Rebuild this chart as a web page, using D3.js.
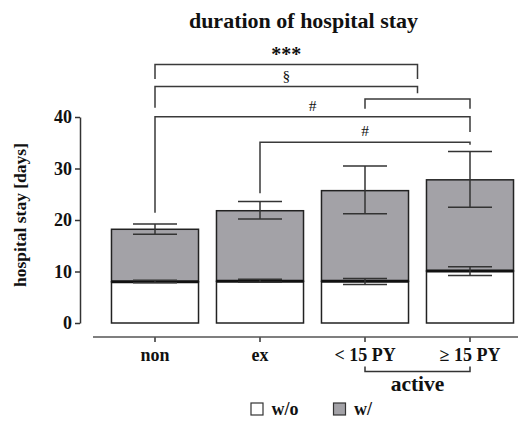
<!DOCTYPE html>
<html>
<head>
<meta charset="utf-8">
<script src="https://cdn.jsdelivr.net/npm/d3@7"></script>
<style>
  body { margin: 0; background: #fff; }
  text { font-family: "Liberation Serif", "Times New Roman", serif; }
</style>
</head>
<body>
<svg id="chart" width="527" height="421"></svg>
<script>
// ---- data ----
const categories = ["non", "ex", "< 15 PY", "≥ 15 PY"];
const withoutMean = [8.0, 8.1, 8.1, 10.1];
const withoutLow  = [7.8, 7.9, 7.5, 9.2];
const withoutHigh = [8.3, 8.5, 8.65, 10.9];
const withMean = [18.2, 21.8, 25.7, 27.8];
const withLow  = [17.25, 20.2, 21.2, 22.5];
const withHigh = [19.2, 23.6, 30.5, 33.3];
const yTicks = [0, 10, 20, 30, 40];
const legendLabels = ["w/o", "w/"];
// significance brackets: positions in category index units, heights in days
const bracketFrom   = [0, 0, 2, 0, 1];
const bracketTo     = [2.5, 2.5, 3, 3, 3];
const bracketTop    = [50.2, 45.9, 43.5, 40.05, 35.1];
const bracketLeftEnd  = [47.4, 41.8, 41.6, 21.4, 25.2];
const bracketRightEnd = [47.4, 44.6, 41.6, 37.1, 34.6];
const bracketLabels = ["***", "§", "", "#", "#"];

// ---- layout ----
const svg = d3.select("#chart");
const y = d3.scaleLinear().domain([0, 40]).range([323, 117]);
const x = d3.scaleBand().domain(categories).range([102.5, 522.5])
  .paddingInner(0.171).paddingOuter(0.0855);
const step = x.step();
const cx = i => x(categories[0]) + x.bandwidth() / 2 + i * step;

const fillGray = "#a3a2a7";
const lineCol = "#3a3a3a";

// title
svg.append("text").attr("x", 303.5).attr("y", 28)
  .attr("text-anchor", "middle").attr("font-size", 22).attr("font-weight", "bold")
  .attr("fill", "#111").text("duration of hospital stay");

// y axis
const yAxis = svg.append("g").attr("transform", "translate(80,0)")
  .call(d3.axisLeft(y).tickValues(yTicks).tickSize(5).tickSizeOuter(0).tickPadding(3));
yAxis.selectAll("path, line").attr("stroke", "#333").attr("stroke-width", 1.5);
yAxis.selectAll("text").attr("font-size", 18).attr("font-weight", "bold")
  .attr("font-family", "Liberation Serif").attr("fill", "#111");

// y label
svg.append("text").attr("transform", "translate(25.5,215) rotate(-90)")
  .attr("text-anchor", "middle").attr("font-size", 17.5).attr("font-weight", "bold")
  .attr("fill", "#111").text("hospital stay [days]");

// bars: w/ (total) gray, w/o white
const g = svg.append("g");
categories.forEach((c, i) => {
  g.append("rect").attr("x", x(c)).attr("y", y(withMean[i]))
    .attr("width", x.bandwidth()).attr("height", y(withoutMean[i]) - y(withMean[i]))
    .attr("fill", fillGray).attr("stroke", "#222").attr("stroke-width", 1.5);
  g.append("rect").attr("x", x(c)).attr("y", y(withoutMean[i]))
    .attr("width", x.bandwidth()).attr("height", y(0) - y(withoutMean[i]))
    .attr("fill", "#fff").attr("stroke", "#222").attr("stroke-width", 1.5);
  g.append("line").attr("x1", x(c)).attr("x2", x(c) + x.bandwidth())
    .attr("y1", y(withoutMean[i])).attr("y2", y(withoutMean[i]))
    .attr("stroke", "#111").attr("stroke-width", 3);
});

// error bars
function errBar(i, lo, hi) {
  const xc = cx(i), hw = 22;
  g.append("line").attr("x1", xc).attr("x2", xc).attr("y1", y(lo)).attr("y2", y(hi))
    .attr("stroke", "#333").attr("stroke-width", 1.5);
  [lo, hi].forEach(v => g.append("line").attr("x1", xc - hw).attr("x2", xc + hw)
    .attr("y1", y(v)).attr("y2", y(v)).attr("stroke", "#333").attr("stroke-width", 1.5));
}
categories.forEach((c, i) => {
  errBar(i, withoutLow[i], withoutHigh[i]);
  errBar(i, withLow[i], withHigh[i]);
});

// x axis
const xAxis = svg.append("g").attr("transform", "translate(0,337)")
  .call(d3.axisBottom(x).tickSize(5).tickSizeOuter(0).tickPadding(6));
xAxis.select(".domain").remove();
xAxis.append("line").attr("x1", 93).attr("x2", 518).attr("y1", 0).attr("y2", 0)
  .attr("stroke", "#555").attr("stroke-width", 1.5);
xAxis.selectAll(".tick line").attr("stroke", "#333").attr("stroke-width", 1.5);
xAxis.selectAll("text").attr("font-size", 18).attr("font-weight", "bold")
  .attr("font-family", "Liberation Serif").attr("fill", "#111");

// "active" group bracket
const aL = cx(2), aR = cx(3);
svg.append("path").attr("d", `M${aL},366.5 V371.5 H${aR} V366.5`)
  .attr("fill", "none").attr("stroke", "#333").attr("stroke-width", 1.5);
svg.append("text").attr("x", (aL + aR) / 2).attr("y", 390.5)
  .attr("text-anchor", "middle").attr("font-size", 21.5).attr("font-weight", "bold")
  .attr("fill", "#111").text("active");

// significance brackets
bracketLabels.forEach((lab, k) => {
  const x1 = cx(bracketFrom[k]), x2 = cx(bracketTo[k]);
  svg.append("path")
    .attr("d", `M${x1},${y(bracketLeftEnd[k])} V${y(bracketTop[k])} H${x2} V${y(bracketRightEnd[k])}`)
    .attr("fill", "none").attr("stroke", lineCol).attr("stroke-width", 1.5);
  if (lab) {
    const bold = lab === "***";
    svg.append("text").attr("x", (x1 + x2) / 2)
      .attr("y", y(bracketTop[k]) - (bold ? 3 : 6))
      .attr("text-anchor", "middle").attr("font-size", bold ? 20 : 15.5)
      .attr("font-weight", bold ? "bold" : "normal").attr("fill", "#111").text(lab);
  }
});

// legend
const legendFills = ["#fff", fillGray];
const legendX = [251, 333.5];
legendLabels.forEach((lab, k) => {
  svg.append("rect").attr("x", legendX[k]).attr("y", 403).attr("width", 12).attr("height", 12)
    .attr("fill", legendFills[k]).attr("stroke", "#333").attr("stroke-width", 1.2);
  svg.append("text").attr("x", legendX[k] + 20.5).attr("y", 415)
    .attr("font-size", 18).attr("font-weight", "bold").attr("fill", "#111").text(lab);
});
</script>
</body>
</html>
